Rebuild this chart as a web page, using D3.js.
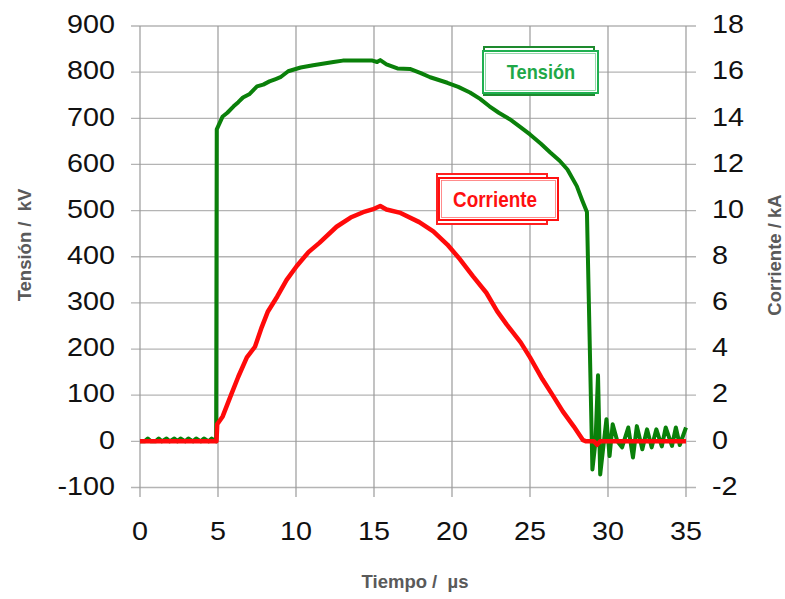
<!DOCTYPE html>
<html>
<head>
<meta charset="utf-8">
<script src="https://cdn.jsdelivr.net/npm/d3@7"></script>
<style>
  html, body { margin: 0; padding: 0; background: #fff; }
  svg { display: block; font-family: "Liberation Sans", Arial, sans-serif; }
</style>
</head>
<body>
<svg id="chart" width="785" height="599"></svg>
<script>
// Time axis (µs) and tick labels
const timeTicks = [0, 5, 10, 15, 20, 25, 30, 35];
const voltageTicks = [-100, 0, 100, 200, 300, 400, 500, 600, 700, 800, 900];
const currentTicks = [-2, 0, 2, 4, 6, 8, 10, 12, 14, 16, 18];

// Voltage waveform (kV)
const voltageTime = [0, 0.3, 0.5, 0.7, 1.0, 1.2, 1.4, 1.7, 1.9, 2.2, 2.4, 2.6, 2.9, 3.1, 3.4, 3.6, 3.9, 4.1, 4.4, 4.6, 4.88,
  4.92, 5.3, 5.6, 6.0, 6.3, 6.6, 7.0, 7.5, 7.9, 8.3, 8.7, 9.0, 9.5, 10.3, 11.1, 11.7, 12.4, 13.0, 14.0, 14.9, 15.2, 15.4,
  15.8, 16.5, 17.3, 18.0, 18.6, 19.7, 20.4, 21.15, 21.8, 22.4, 23.0, 23.7, 24.3, 25.0, 25.7, 26.3, 26.9, 27.4, 28.0, 28.35,
  28.65, 29.0, 29.2, 29.36, 29.5, 29.9, 30.1, 30.3, 30.6, 30.9, 31.3, 31.6, 31.85, 32.2, 32.5, 32.8, 33.1, 33.45, 33.7,
  34.1, 34.35, 34.6, 35.0];
const voltage = [0, 0, 6, 0, 0, 6, 0, 6, 0, 6, 0, 6, 0, 6, 0, 6, 0, 6, 0, 6, 0,
  676, 704, 712, 726, 735, 745, 752, 769, 773, 780, 785, 789, 802, 810, 815, 818, 822, 825, 825, 825, 822, 826,
  817, 808, 807, 798, 789, 777, 768, 756, 742, 726, 712, 698, 683, 665, 645, 626, 608, 589, 553, 522,
  497, -61, 0, 143, -72, 48, -32, 37, 0, -13, 30, -35, 33, -17, 26, -13, 26, -11, 30,
  -10, 30, -8, 30];

// Current waveform (kA)
const currentTime = [0, 4.9, 4.95, 5.3, 5.8, 6.3, 6.85, 7.37, 7.8, 8.2, 8.8, 9.4, 10.05, 10.8, 11.5, 12.6, 13.5, 14.3,
  14.9, 15.4, 15.8, 16.7, 17.9, 18.8, 19.7, 20.5, 21.35, 22.2, 22.9, 23.5, 24.4, 25.0, 25.8, 26.5, 27.1, 27.8, 28.4,
  28.6, 29.1, 29.3, 29.5, 35];
const current = [0, 0, 0.74, 1.08, 1.95, 2.8, 3.64, 4.1, 4.94, 5.63, 6.28, 7.0, 7.6, 8.2, 8.6, 9.3, 9.7, 9.93,
  10.05, 10.2, 10.05, 9.9, 9.5, 9.1, 8.53, 7.9, 7.15, 6.44, 5.63, 5.07, 4.29, 3.64, 2.69, 1.95, 1.3, 0.65, 0.05,
  0, 0, -0.15, 0, 0];

const svg = d3.select("#chart");

const x = d3.scaleLinear().domain([0, 35]).range([140, 686]);
const yV = d3.scaleLinear().domain([-100, 900]).range([487.5, 26]);
const yI = d3.scaleLinear().domain([-2, 18]).range([487.5, 26]);

// Grid
const grid = svg.append("g");
grid.selectAll("line.h").data(voltageTicks).join("line")
  .attr("x1", 131).attr("x2", 696)
  .attr("y1", d => yV(d)).attr("y2", d => yV(d))
  .attr("stroke", "#b4b4b4").attr("stroke-width", 1.3);
grid.selectAll("line.v").data(timeTicks).join("line")
  .attr("x1", d => x(d)).attr("x2", d => x(d))
  .attr("y1", 26).attr("y2", 497)
  .attr("stroke", "#9a9a9a").attr("stroke-width", 1.2);

// Tick labels, drawn slightly wide like the original typeface
function label(px, py, txt, anchor, size, sx) {
  svg.append("g").attr("transform", `translate(${px},${py}) scale(${sx},1)`)
    .append("text").attr("text-anchor", anchor).attr("dy", "0.35em")
    .attr("font-size", size).attr("fill", "#111").text(txt);
}
voltageTicks.forEach(v => label(115, yV(v) - 1.5, v, "end", 25, 1.15));
currentTicks.forEach(v => label(712, yI(v) - 1.5, v, "start", 25, 1.15));
timeTicks.forEach(t => label(x(t), 531, t, "middle", 25, 1.15));

// Axis titles
function title(transform, txt) {
  svg.append("text").attr("transform", transform)
    .attr("text-anchor", "middle").attr("font-size", 18.5).attr("font-weight", "bold")
    .attr("fill", "#5a5a5a").style("white-space", "pre").text(txt);
}
title("translate(31,245) rotate(-90)", "Tensión /  kV");
title("translate(781,255) rotate(-90)", "Corriente / kA");
title("translate(415,588)", "Tiempo /  µs");

// Waveforms
const vLine = d3.line().x(d => x(d[0])).y(d => yV(d[1]));
const iLine = d3.line().x(d => x(d[0])).y(d => yI(d[1]));

svg.append("path").datum(voltageTime.map((t, i) => [t, voltage[i]]))
  .attr("d", vLine).attr("fill", "none").attr("stroke", "#0a800a")
  .attr("stroke-width", 4).attr("stroke-linejoin", "round");
svg.append("path").datum(currentTime.map((t, i) => [t, current[i]]))
  .attr("d", iLine).attr("fill", "none").attr("stroke", "#ff0a0a")
  .attr("stroke-width", 4.5).attr("stroke-linejoin", "round");

// Series labels in framed boxes
function tag(back, front, stroke1, stroke2, txt, cx, by, size, sx, color) {
  const g = svg.append("g");
  g.append("rect").attr("x", back[0]).attr("y", back[1]).attr("width", back[2]).attr("height", back[3])
    .attr("fill", "#fff").attr("stroke", stroke1).attr("stroke-width", 2);
  g.append("rect").attr("x", front[0]).attr("y", front[1]).attr("width", front[2]).attr("height", front[3])
    .attr("fill", "#fff").attr("stroke", stroke2).attr("stroke-width", 2);
  g.append("rect").attr("x", front[0] + 2.5).attr("y", front[1] + 2.5).attr("width", front[2] - 5).attr("height", front[3] - 5)
    .attr("fill", "none").attr("stroke", stroke2).attr("stroke-width", 0.8).attr("opacity", 0.6);
  g.append("g").attr("transform", `translate(${cx},${by}) scale(${sx},1)`)
    .append("text").attr("text-anchor", "middle").attr("font-size", size)
    .attr("font-weight", "bold").attr("fill", color).text(txt);
}
tag([484, 47, 110, 48], [483, 51, 115, 42], "#1e8a2e", "#1fb050", "Tensión", 541, 79, 20, 0.91, "#1fa848");
tag([437, 174, 110, 50], [439, 178, 119, 42], "#ff2020", "#ff1010", "Corriente", 495, 207, 22, 0.86, "#ff1010");
</script>
</body>
</html>
